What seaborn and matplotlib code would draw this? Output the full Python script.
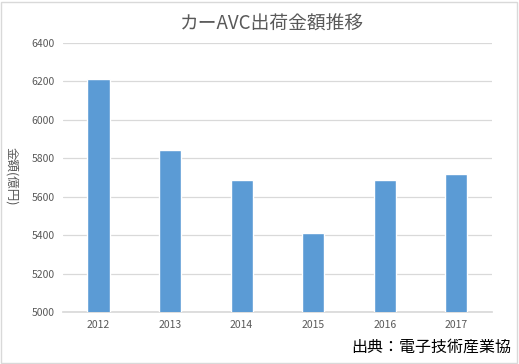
import matplotlib
matplotlib.use("Agg")
import matplotlib.pyplot as plt
import seaborn as sns
import pandas as pd
from matplotlib.patches import Rectangle

years = ["2012", "2013", "2014", "2015", "2016", "2017"]
values = [6210, 5845, 5685, 5410, 5685, 5720]
yticks = [5000, 5200, 5400, 5600, 5800, 6000, 6200, 6400]
title = "カーAVC出荷金額推移"
ylabel = "金額(億円)"
source = "出典：電子技術産業協"

sns.set_theme(style="white")
plt.rcParams['font.family'] = ['Noto Sans CJK JP', 'DejaVu Sans']

df = pd.DataFrame({"year": years, "value": values})

fig = plt.figure(figsize=(5.19, 3.64), dpi=100)
ax = fig.add_axes([0.121, 0.143, 0.827, 0.739])
sns.barplot(data=df, x="year", y="value", color="#5b9bd5", width=0.31,
            saturation=1, ax=ax, zorder=3)
ax.set_ylim(5000, 6400)
ax.set_yticks(yticks)
ax.set_yticklabels([str(t) for t in yticks])
ax.grid(axis="y", color="#d9d9d9", linewidth=0.9, zorder=0)
ax.set_axisbelow(True)
for s in ["top", "right", "left"]:
    ax.spines[s].set_visible(False)
ax.spines["bottom"].set_color("#d9d9d9")
ax.tick_params(axis="both", length=0, labelsize=7.5, colors="#595959", pad=6)
ax.set_xlabel("")
ax.set_ylabel("")
fig.text(0.022, 0.515, ylabel, rotation=-90, ha="center", va="center",
         fontsize=9, color="#595959")
fig.text(0.525, 0.935, title, ha="center", va="center", fontsize=13.5,
         color="#595959")
fig.text(0.985, 0.045, source, ha="right", va="center", fontsize=11.5,
         color="black")
fig.patches.append(Rectangle((0.002, 0.003), 0.994, 0.992, transform=fig.transFigure,
                             fill=False, edgecolor="#d9d9d9", linewidth=1))
fig.savefig("out.png", dpi=100)
